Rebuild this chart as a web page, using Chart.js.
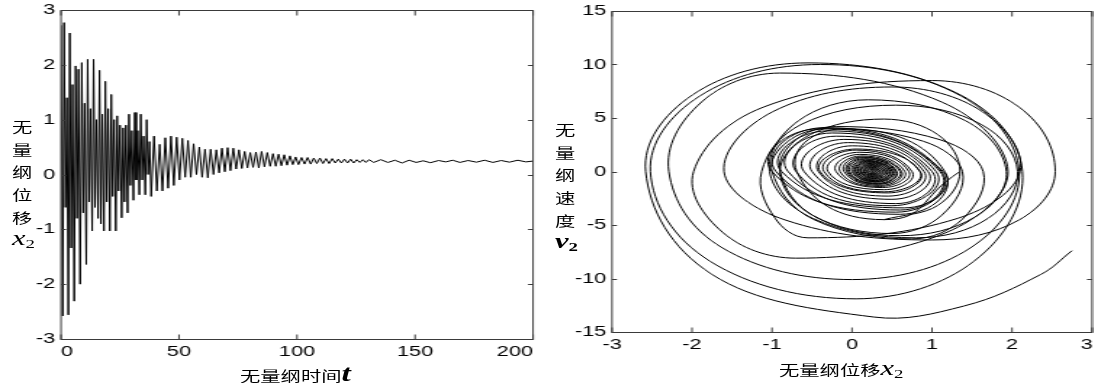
<!DOCTYPE html>
<html>
<head>
<meta charset="utf-8">
<script src="https://cdn.jsdelivr.net/npm/chart.js@4.4.1/dist/chart.umd.min.js"></script>
<style>
  html, body { margin: 0; padding: 0; background: #fff; }
  #wrap { position: relative; width: 1094px; height: 383px; overflow: hidden; background: #fff; }
  canvas { position: absolute; top: 0; transform-origin: 0 0; transform: scaleX(1.45); }
  .ytitle, .xtitle {
    position: absolute; color: #000; transform: scaleX(1.45); transform-origin: 0 0;
    font-family: "Noto Sans CJK SC", sans-serif; font-size: 14px; white-space: nowrap;
  }
  .ytitle div { height: 22.7px; line-height: 22.7px; }
  .xtitle { line-height: 20px; }
  .sym { font-family: "Liberation Serif", "DejaVu Serif", serif; font-style: italic; font-size: 21px; line-height: 1; }
  .sym sub { font-style: normal; font-size: 13px; vertical-align: -3px; line-height: 1; }
  .bold { font-weight: bold; }
  .big { font-size: 23px; }
</style>
</head>
<body>
<div id="wrap">
  <canvas id="chartTime" width="377" height="383" style="left:0"></canvas>
  <canvas id="chartPhase" width="377" height="383" style="left:547px"></canvas>

  <!-- axis titles -->
  <div class="ytitle" style="left:12px;top:115px">
    <div>无</div><div>量</div><div>纲</div><div>位</div><div>移</div>
    <div><span class="sym">x<sub>2</sub></span></div>
  </div>
  <div class="xtitle" style="left:240px;top:362px">无量纲时间<span class="sym bold big">t</span></div>

  <div class="ytitle" style="left:555px;top:118px">
    <div>无</div><div>量</div><div>纲</div><div>速</div><div>度</div>
    <div><span class="sym bold">v<sub>2</sub></span></div>
  </div>
  <div class="xtitle" style="left:779px;top:358px">无量纲位移<span class="sym">x<sub>2</sub></span></div>
</div>

<script>
// horizontal stretch of the original figure
const STRETCH = 1.45;

// ---- left: x2 versus t (turning points) ----
const timeT = [
  0.0,
  0.7, 1.3, 1.9, 2.5,
  3.1, 3.7, 4.3, 4.9,
  5.6, 6.2, 6.8, 7.4,
  8.1, 8.8, 9.4, 10.0,
  10.7, 11.3, 11.9, 12.5,
  13.2, 13.8, 14.4, 15.0,
  15.7, 16.3, 16.9, 17.5,
  18.2, 18.8, 19.4, 20.0,
  20.7, 21.3, 21.9, 22.5,
  23.2, 23.8, 24.4, 25.0,
  25.7, 26.3, 26.9, 27.5,
  28.2, 28.8, 29.4, 30.0,
  30.7, 31.3, 31.9, 32.5,
  33.2, 33.8, 34.4, 35.0,
  35.7, 36.3, 36.9, 37.5,
  38.2, 39.4, 40.6, 41.8, 43.0, 44.2, 45.4, 46.6, 47.8, 49.0,
  50.2, 51.4, 52.6, 53.8, 55.0, 56.2, 57.4, 58.6, 59.8, 61.0,
  62.2, 63.4, 64.6, 65.8, 67.0, 68.2, 69.4, 70.6, 71.8, 73.0,
  74.2, 75.4, 76.6, 77.8, 79.0, 80.2, 81.4, 82.6, 83.8, 85.0,
  86.2, 87.4, 88.6, 89.8, 91.0, 92.2, 93.4, 94.6, 95.8, 97.0,
  98.2, 99.4, 100.6, 101.9, 103.2, 104.5, 105.8, 107.1, 108.4, 109.7,
  111.0, 112.3, 113.6, 114.9, 116.2, 117.5, 118.8, 120.1, 121.4, 122.7,
  124.0, 125.3, 126.6, 127.9, 129.2, 130.5,
  132.5, 135.5, 138.5, 141.5, 144.5, 147.5, 150.5, 153.5, 156.5, 160.0,
  163.0, 166.0, 169.0, 172.5, 176.0, 179.5, 183.0, 186.5, 190.0, 193.5,
  197.0, 200.0
];
const dispX2 = [
  2.72,
  -2.58, 2.77, -0.60, 1.40,
  -2.56, 2.58, -1.34, 1.64,
  -2.31, 1.98, -0.80, 1.92,
  -2.00, 2.04, -0.70, 1.30,
  -1.64, 2.10, -0.50, 1.20,
  -1.03, 2.10, -0.60, 1.00,
  -0.80, 1.90, -0.90, 1.10,
  -1.03, 1.70, -0.50, 1.20,
  -1.03, 1.46, -0.40, 1.00,
  -1.03, 1.07, -0.30, 0.90,
  -0.79, 0.85, -0.50, 0.90,
  -0.70, 1.10, -0.20, 0.80,
  -0.47, 1.13, -0.10, 0.80,
  -0.37, 1.10, -0.10, 0.70,
  -0.37, 1.00, 0.00, 0.60,
  -0.40, 0.70, -0.30, 0.55, -0.30, 0.67, -0.25, 0.70, -0.20, 0.68,
  -0.10, 0.66, -0.05, 0.62, -0.05, 0.56, 0.00, 0.50, -0.05, 0.46,
  -0.06, 0.46, 0.00, 0.45, 0.03, 0.48, 0.05, 0.49, 0.07, 0.48,
  0.10, 0.45, 0.11, 0.42, 0.12, 0.40, 0.13, 0.41, 0.12, 0.42,
  0.14, 0.40, 0.15, 0.38, 0.15, 0.37, 0.16, 0.36, 0.17, 0.34,
  0.18, 0.32, 0.18, 0.31, 0.19, 0.31, 0.19, 0.30, 0.20, 0.30,
  0.20, 0.29, 0.20, 0.29, 0.21, 0.28, 0.21, 0.28, 0.21, 0.28,
  0.21, 0.27, 0.22, 0.27, 0.22, 0.27,
  0.22, 0.27, 0.22, 0.26, 0.21, 0.26, 0.22, 0.25, 0.215, 0.255,
  0.23, 0.26, 0.22, 0.255, 0.225, 0.26, 0.22, 0.255, 0.225, 0.26,
  0.23, 0.245
];

// ---- right: v2 versus x2 ----
// outer turns, eight readings per turn
const outerX = [
  2.75, 2.36, 1.40,
  0.27, -1.75, -2.58, -1.99, -0.55, 1.35, 2.13, 1.52,
  0.05, -1.77, -2.52, -1.90, -0.40, 1.36, 2.09, 1.48,
  0.00, -1.62, -2.29, -1.88, -0.90, 1.12, 1.95, 1.17,
  -0.70, -1.61, -1.98, -1.11, 1.00, 2.09, 2.54, 2.09,
  1.00, -0.84, -1.60, -0.99, 0.50, 1.63, 2.10, 1.32,
  -0.55, -0.96, -1.13, -0.64, 0.55, 1.62, 2.07, 1.70,
  0.80, -0.49, -1.03, -0.67, 0.20, 1.42, 1.93, 1.54,
  0.60, -0.46, -0.90, -0.70, -0.20, 1.10, 1.64, 1.38,
  0.75, -0.49, -1.00, -0.80, -0.30, 0.89, 1.38, 1.12,
  0.50, -0.49, -0.90, -0.52, 0.40, 1.07, 1.35, 1.07,
  0.40
];
const outerV = [
  -7.4, -9.62, -12.57,
  -13.6, -9.62, 0, 7.18, 10.15, 7.18, 0, -8.41,
  -11.9, -8.41, 0, 7.07, 10.0, 7.07, 0, -7.14,
  -10.1, -7.14, 0, 6.50, 9.2, 6.50, 0, -5.73,
  -8.1, -5.73, 0, 6.01, 8.5, 6.01, 0, -4.52,
  -6.4, -4.52, 0, 5.59, 7.9, 5.59, 0, -4.38,
  -6.2, -4.38, 0, 4.38, 6.2, 4.38, 0, -4.38,
  -6.2, -4.38, 0, 4.74, 6.7, 4.74, 0, -4.24,
  -6.0, -4.24, 0, 2.97, 4.2, 2.97, 0, -4.45,
  -6.3, -4.45, 0, 2.83, 4.0, 2.83, 0, -4.10,
  -5.8, -4.10, 0, 3.46, 4.9, 3.46, 0, -3.18,
  -4.5
];
// inner turns, four readings per turn (bottom, left, top, right);
// starts one reading earlier so it joins the outer trace smoothly
const innerX = [
  1.35,
  0.40, -0.69, -0.10, 1.16,
  0.60, -0.95, -0.35, 1.12,
  0.55, -1.00, -0.40, 1.14,
  0.65, -0.88, -0.30, 1.10,
  0.60, -0.80, -0.25, 1.05,
  0.50, -0.70, -0.20, 1.00,
  0.55, -0.60, -0.10, 0.95,
  0.50, -0.50, -0.05, 0.90,
  0.45, -0.42, 0.00, 0.85,
  0.45, -0.40, 0.05, 0.85,
  0.40, -0.35, 0.05, 0.75,
  0.40, -0.30, 0.10, 0.71,
  0.38, -0.20, 0.10, 0.66,
  0.35, -0.15, 0.12, 0.62,
  0.35, -0.10, 0.12, 0.60,
  0.33, -0.07, 0.15, 0.56,
  0.33, -0.05, 0.15, 0.55,
  0.32, -0.03, 0.17, 0.53,
  0.31, 0.00, 0.17, 0.51,
  0.30, 0.02, 0.18, 0.50,
  0.30, 0.04, 0.19, 0.48,
  0.29, 0.05, 0.20, 0.47,
  0.29, 0.07, 0.20, 0.45,
  0.28, 0.08, 0.21, 0.44,
  0.28, 0.10, 0.21, 0.42,
  0.27, 0.11, 0.22, 0.41,
  0.27, 0.12, 0.22, 0.39,
  0.27, 0.14, 0.23, 0.38,
  0.26, 0.15, 0.23, 0.36,
  0.26, 0.16, 0.24, 0.35,
  0.26, 0.18, 0.24, 0.33,
  0.25, 0.19, 0.24, 0.32,
  0.25, 0.20, 0.25, 0.30,
  0.25, 0.22, 0.25, 0.29,
  0.25, 0.23, 0.25, 0.27,
  0.25
];
const innerV = [
  0,
  -4.5, 0, 4.0, 0,
  -4.0, 0, 4.1, 0,
  -3.8, 0, 4.0, 0,
  -3.4, 0, 3.8, 0,
  -3.6, 0, 3.6, 0,
  -3.2, 0, 3.3, 0,
  -3.0, 0, 3.0, 0,
  -2.6, 0, 2.7, 0,
  -2.3, 0, 2.4, 0,
  -2.0, 0, 2.1, 0,
  -1.9, 0, 2.0, 0,
  -1.7, 0, 1.8, 0,
  -1.5, 0, 1.6, 0,
  -1.4, 0, 1.45, 0,
  -1.3, 0, 1.35, 0,
  -1.2, 0, 1.3, 0,
  -1.15, 0, 1.2, 0,
  -1.1, 0, 1.15, 0,
  -1.0, 0, 1.05, 0,
  -0.95, 0, 1.0, 0,
  -0.9, 0, 0.95, 0,
  -0.85, 0, 0.88, 0,
  -0.8, 0, 0.82, 0,
  -0.72, 0, 0.75, 0,
  -0.66, 0, 0.68, 0,
  -0.6, 0, 0.62, 0,
  -0.54, 0, 0.56, 0,
  -0.48, 0, 0.5, 0,
  -0.42, 0, 0.44, 0,
  -0.36, 0, 0.38, 0,
  -0.3, 0, 0.32, 0,
  -0.25, 0, 0.26, 0,
  -0.2, 0, 0.2, 0,
  -0.14, 0, 0.14, 0,
  -0.08, 0, 0.08, 0,
  0
];

const timeTicks = { min: 0, max: 200, step: 50 };
const dispTicks = { min: -3, max: 3, step: 1 };
const phaseXTicks = { min: -3, max: 3, step: 1 };
const phaseVTicks = { min: -15, max: 15, step: 5 };

const tickFont = { family: '"Liberation Sans", Arial, sans-serif', size: 15 };

// MATLAB-style box with inward ticks on all four sides
const framePlugin = {
  id: 'frame',
  afterDraw(chart) {
    const { ctx, chartArea: a, scales: { x, y } } = chart;
    const T = Math.round(a.top) + 0.5, B = Math.round(a.bottom) + 0.5;
    const L = a.left, R = a.right;
    const hLen = 5 / STRETCH, vLen = 5;
    ctx.save();
    ctx.strokeStyle = '#3a3a3a';
    ctx.lineWidth = 1;
    ctx.strokeRect(L, T, R - L, B - T);
    ctx.beginPath();
    x.ticks.forEach(t => {
      const px = x.getPixelForValue(t.value);
      ctx.moveTo(px, B); ctx.lineTo(px, B - vLen);
      ctx.moveTo(px, T); ctx.lineTo(px, T + vLen);
    });
    y.ticks.forEach(t => {
      const py = Math.round(y.getPixelForValue(t.value)) + 0.5;
      ctx.moveTo(L, py); ctx.lineTo(L + hLen, py);
      ctx.moveTo(R, py); ctx.lineTo(R - hLen, py);
    });
    ctx.stroke();
    ctx.restore();
  }
};

function axisOpts(range, extra) {
  return Object.assign({
    type: 'linear',
    min: range.min,
    max: range.max,
    grid: { display: false, drawTicks: false },
    border: { display: false },
    ticks: { stepSize: range.step, color: '#000', font: tickFont, autoSkip: false, maxRotation: 0 }
  }, extra);
}

function toPoints(xs, ys) {
  const n = Math.min(xs.length, ys.length);
  return xs.slice(0, n).map((x, i) => ({ x, y: ys[i] }));
}

function lineSet(points, tension) {
  return { data: points, borderColor: '#000', borderWidth: 1, pointRadius: 0, fill: false, tension };
}

function makeChart(el, datasets, xr, yr, box, xTickExtra) {
  const xs = axisOpts(xr, {
    afterFit: s => { s.height = box.xH; s.paddingLeft = 0; s.paddingRight = 0; }
  });
  Object.assign(xs.ticks, { padding: 4 }, xTickExtra);
  const ys = axisOpts(yr, {
    afterFit: s => { s.width = box.yW; s.paddingTop = 0; s.paddingBottom = 0; }
  });
  Object.assign(ys.ticks, { padding: 4 });

  return new Chart(el, {
    type: 'line',
    data: { datasets },
    options: {
      responsive: false,
      animation: false,
      devicePixelRatio: 1,
      layout: { padding: { top: box.top, right: box.right, left: 0, bottom: 0 } },
      plugins: { legend: { display: false }, tooltip: { enabled: false } },
      scales: { x: xs, y: ys }
    },
    plugins: [framePlugin]
  });
}

// left plot area: x 61..533, y 10..339 (final pixels)
makeChart(document.getElementById('chartTime'),
  [lineSet(toPoints(timeT, dispX2), 0)],
  timeTicks, dispTicks,
  { top: 10, right: 377 - 533 / STRETCH, xH: 383 - 339, yW: 61 / STRETCH },
  { align: 'inner' });

// right plot area: x 612..1092, y 11..332 (final pixels)
makeChart(document.getElementById('chartPhase'),
  [lineSet(toPoints(outerX, outerV), 0.375), lineSet(toPoints(innerX, innerV), 0.55)],
  phaseXTicks, phaseVTicks,
  { top: 11, right: 377 - 545 / STRETCH, xH: 383 - 332, yW: 65 / STRETCH },
  { callback: v => (v === 3 ? '3\u2002' : String(v)) });
</script>
</body>
</html>
